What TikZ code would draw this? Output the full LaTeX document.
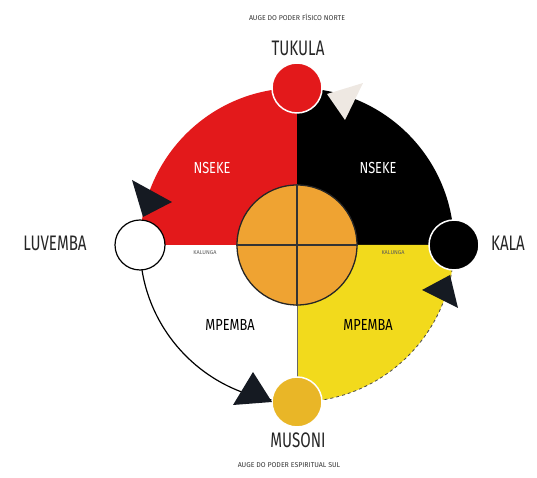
\documentclass[tikz,border=0pt]{standalone}
\usepackage{fontspec}
\setmainfont{Fira Sans}
\definecolor{kred}{HTML}{E3191B}
\definecolor{kyellow}{HTML}{F2DA1C}
\definecolor{korange}{HTML}{EFA332}
\definecolor{kgold}{HTML}{E9B627}
\definecolor{knavy}{HTML}{151A22}
\definecolor{kbeige}{HTML}{EEE8E2}
\tikzset{
  x=1pt,y=1pt,
  station/.style={circle,minimum size=50pt,inner sep=0pt,draw=white,line width=1.5pt},
  bigname/.style={font=\fontsize{21}{21}\selectfont,text=black!85},
  quadname/.style={font=\fontsize{16}{16}\selectfont},
  tiny/.style={font=\fontsize{5.5}{5.5}\selectfont,text=black!65},
  caption/.style={font=\fontsize{7}{7}\selectfont,text=black!80},
  arrowtri/.style={fill=knavy}
}
\begin{document}
\begin{tikzpicture}
\useasboundingbox (0,0) rectangle (537,478);
\coordinate (C) at (297,233);
% quadrants
\fill[kred] (C) -- ++(180:157) arc[start angle=180,end angle=90,radius=157] -- cycle;
\fill[black] (C) -- ++(0:157) arc[start angle=0,end angle=90,radius=157] -- cycle;
\fill[kyellow] (C) -- ++(0:157) arc[start angle=0,end angle=-90,radius=157] -- cycle;
\draw[black!60,line width=0.8pt] (C) -- ++(0,-157);
\draw[black,line width=1.2pt] (C) ++(180:157) arc[start angle=180,end angle=270,radius=157];
\draw[black!70,line width=0.8pt,dashed] (C) ++(0:157) arc[start angle=0,end angle=-90,radius=157];
% centre
\node[circle,minimum size=120pt,inner sep=0pt,fill=korange,draw=black!85,line width=1.3pt] (centre) at (C) {};
\draw[black!80,line width=1.2pt] (centre.west) -- (centre.east);
\draw[black!80,line width=1.2pt] (centre.north) -- (centre.south);
% stations
\node[station,fill=kred] (tuk) at (297,390) {};
\node[station,fill=white,draw=black,line width=1.2pt] (luv) at (140,233) {};
\node[station,fill=black] (kal) at (454,233) {};
\node[station,fill=kgold] (mus) at (297,76) {};
% arrowheads
\fill[kbeige] (327,384) -- (363,395) -- (345,358) -- cycle;
\fill[arrowtri] (132,298) -- (172,276) -- (143,261) -- cycle;
\fill[arrowtri] (422,188) -- (450,203) -- (458,170) -- cycle;
\fill[arrowtri] (233,73) -- (253,106) -- (272,76) -- cycle;
% labels
\node[bigname] (ltuk) at (298,430) {\scalebox{0.72}[1]{TUKULA}};
\node[bigname] (lluv) at (55,235) {\scalebox{0.72}[1]{LUVEMBA}};
\node[bigname] (lkal) at (508,235) {\scalebox{0.72}[1]{KALA}};
\node[bigname] (lmus) at (298,38) {\scalebox{0.72}[1]{MUSONI}};
\node[quadname,text=white] (n1) at (212,310) {\scalebox{0.8}[1]{NSEKE}};
\node[quadname,text=white] (n2) at (378,310) {\scalebox{0.8}[1]{NSEKE}};
\node[quadname,text=black] (m1) at (230,153) {\scalebox{0.8}[1]{MPEMBA}};
\node[quadname,text=black] (m2) at (368,153) {\scalebox{0.8}[1]{MPEMBA}};
\node[tiny] (k1) at (205,225) {KALUNGA};
\node[tiny] (k2) at (393,225) {KALUNGA};
\node[caption] (top) at (297,461) {AUGE DO PODER FÍSICO NORTE};
\node[caption] (bot) at (289,13) {AUGE DO PODER ESPIRITUAL SUL};
\end{tikzpicture}
\end{document}
